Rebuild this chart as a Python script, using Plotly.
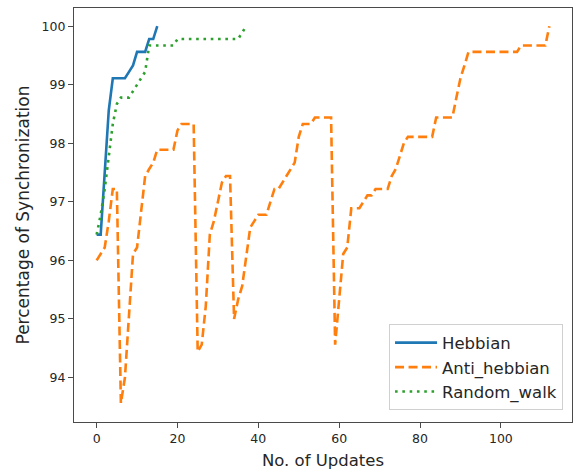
import plotly.graph_objects as go

# ---- data ----
hebbian_x = list(range(0, 16))
hebbian_y = [96.44, 96.44, 97.5, 98.56, 99.11, 99.11, 99.11, 99.11, 99.22, 99.33,
             99.56, 99.56, 99.56, 99.78, 99.78, 100.0]

anti_x = list(range(0, 113))
anti_y = [96.0, 96.11, 96.22, 96.67, 97.22, 97.22, 93.56, 94.0, 95.0, 96.11,
          96.22, 96.78, 97.44, 97.56, 97.67, 97.89, 97.89, 97.89, 97.89, 97.89,
          98.22, 98.33, 98.33, 98.33, 98.33, 94.44, 94.56, 95.22, 96.44, 96.67,
          97.0, 97.33, 97.44, 97.44, 95.0, 95.33, 95.56, 96.11, 96.56, 96.67,
          96.78, 96.78, 96.78, 97.0, 97.22, 97.22, 97.33, 97.44, 97.56, 97.67,
          98.11, 98.33, 98.33, 98.33, 98.44, 98.44, 98.44, 98.44, 98.44, 94.56,
          95.33, 96.11, 96.22, 96.89, 96.89, 96.89, 97.0, 97.11, 97.11, 97.22,
          97.22, 97.22, 97.22, 97.44, 97.56, 97.78, 98.0, 98.11, 98.11, 98.11,
          98.11, 98.11, 98.11, 98.11, 98.44, 98.44, 98.44, 98.44, 98.44, 98.78,
          99.11, 99.33, 99.56, 99.56, 99.56, 99.56, 99.56, 99.56, 99.56, 99.56,
          99.56, 99.56, 99.56, 99.56, 99.56, 99.67, 99.67, 99.67, 99.67, 99.67,
          99.67, 99.67, 100.0]

random_x = list(range(0, 38))
random_y = [96.44, 96.78, 97.22, 97.78, 98.33, 98.67, 98.78, 98.78, 98.78, 98.89,
            99.0, 99.11, 99.22, 99.67, 99.67, 99.67, 99.67, 99.67, 99.67, 99.67,
            99.78, 99.78, 99.78, 99.78, 99.78, 99.78, 99.78, 99.78, 99.78, 99.78,
            99.78, 99.78, 99.78, 99.78, 99.78, 99.78, 99.89, 100.0]

x_ticks = [0, 20, 40, 60, 80, 100]
y_ticks = [94, 95, 96, 97, 98, 99, 100]

FONT = "DejaVu Sans"
TXT = "#262626"
AX = "#4a4a4a"

fig = go.Figure()
fig.add_trace(go.Scatter(x=hebbian_x, y=hebbian_y, mode="lines", name="Hebbian",
                         legendgroup="a",
                         line=dict(color="#1f77b4", width=2.6)))
fig.add_trace(go.Scatter(x=anti_x, y=anti_y, mode="lines", name="Anti_hebbian",
                         legendgroup="b",
                         line=dict(color="#ff7f0e", width=2.6, dash="9px,4.5px")))
fig.add_trace(go.Scatter(x=random_x, y=random_y, mode="lines", name="Random_walk",
                         legendgroup="c",
                         line=dict(color="#2ca02c", width=2.6, dash="2.6px,4.7px")))

fig.update_layout(
    width=575, height=473,
    margin=dict(l=74, r=3, t=8, b=51),
    plot_bgcolor="white", paper_bgcolor="white",
    font=dict(family=FONT, color=TXT, size=13),
    showlegend=True,
    legend=dict(
        x=0.982, y=0.028, xanchor="right", yanchor="bottom",
        bgcolor="rgba(255,255,255,0.9)", bordercolor="#d0d0d0", borderwidth=1,
        font=dict(family=FONT, size=16.5, color=TXT),
        itemwidth=42, tracegroupgap=0,
    ),
    xaxis=dict(
        range=[-5.6, 117.6], tickmode="array", tickvals=x_ticks,
        ticks="outside", ticklen=5, tickwidth=1.2, tickcolor=AX,
        showline=True, linecolor=AX, linewidth=1.3, mirror=True,
        showgrid=False, zeroline=False, automargin=False,
        tickfont=dict(family=FONT, size=12.5, color=TXT),
        title=dict(text="No. of Updates", font=dict(family=FONT, size=16.5, color=TXT), standoff=9),
    ),
    yaxis=dict(
        range=[93.24, 100.31], tickmode="array", tickvals=y_ticks,
        ticks="outside", ticklen=5, tickwidth=1.2, tickcolor=AX,
        showline=True, linecolor=AX, linewidth=1.3, mirror=True,
        showgrid=False, zeroline=False, automargin=False,
        tickfont=dict(family=FONT, size=12.5, color=TXT),
        title=dict(text="Percentage of Synchronization", font=dict(family=FONT, size=17, color=TXT), standoff=7),
    ),
)

fig.write_html("out.html",
               config={"displayModeBar": False},
               post_script="document.body.style.margin='0px';document.body.style.overflow='hidden';")
